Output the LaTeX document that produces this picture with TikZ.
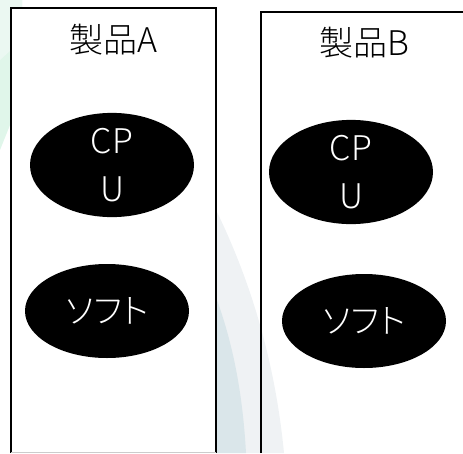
\documentclass[tikz,border=0pt]{standalone}
\usepackage{fontspec}
\usetikzlibrary{shapes.geometric}
\IfFontExistsTF{Noto Sans CJK JP Light}
  {\setmainfont{Noto Sans CJK JP Light}[RawFeature=+palt]}
  {\setmainfont{Noto Sans CJK JP}[RawFeature=+palt]}
\begin{document}
\begin{tikzpicture}[x=1pt,y=-1pt,
  boxline/.style={line width=2pt,draw=black},
  part/.style={ellipse,fill=black,text=white,minimum width=164pt,minimum height=94pt,inner sep=0pt,
    font=\fontsize{34}{48}\selectfont,align=center},
  title/.style={font=\fontsize{34}{40}\selectfont,inner sep=0pt}]
\useasboundingbox (0,0) rectangle (463,453);
% background swirls
\fill[green!40!teal!12] (0,8) -- (18,0) -- (22,0) -- (22,95) -- (0,150) -- cycle;
\fill[green!30!teal!8] (0,0) -- (22,0) -- (22,40) -- (0,60) -- cycle;
\fill[cyan!20!gray!12] (217,212) .. controls (250,280) and (275,360) .. (284,453) -- (217,453) -- cycle;
\fill[cyan!30!gray!25] (217,300) .. controls (235,350) and (243,400) .. (246,453) -- (217,453) -- cycle;
% boxes
\fill[white] (11,8) rectangle (216,453);
\draw[boxline] (11,453) -- (11,8) -- (216,8) -- (216,453);
\draw[boxline] (261,453) -- (261,12) -- (463,12);
\draw[gray!40,line width=0.8pt] (11,452.5) -- (216,452.5);
% titles
\node[title] (tA) at (113,40) {製品A};
\node[title] (tB) at (364,43) {製品B};
% ellipses
\node[part] (cpuA) at (112,165) {CP\\U};
\node[part] (cpuB) at (351,172) {CP\\U};
\node[part] (softA) at (107,311) {ソフト};
\node[part] (softB) at (364,321) {ソフト};
\end{tikzpicture}
\end{document}
